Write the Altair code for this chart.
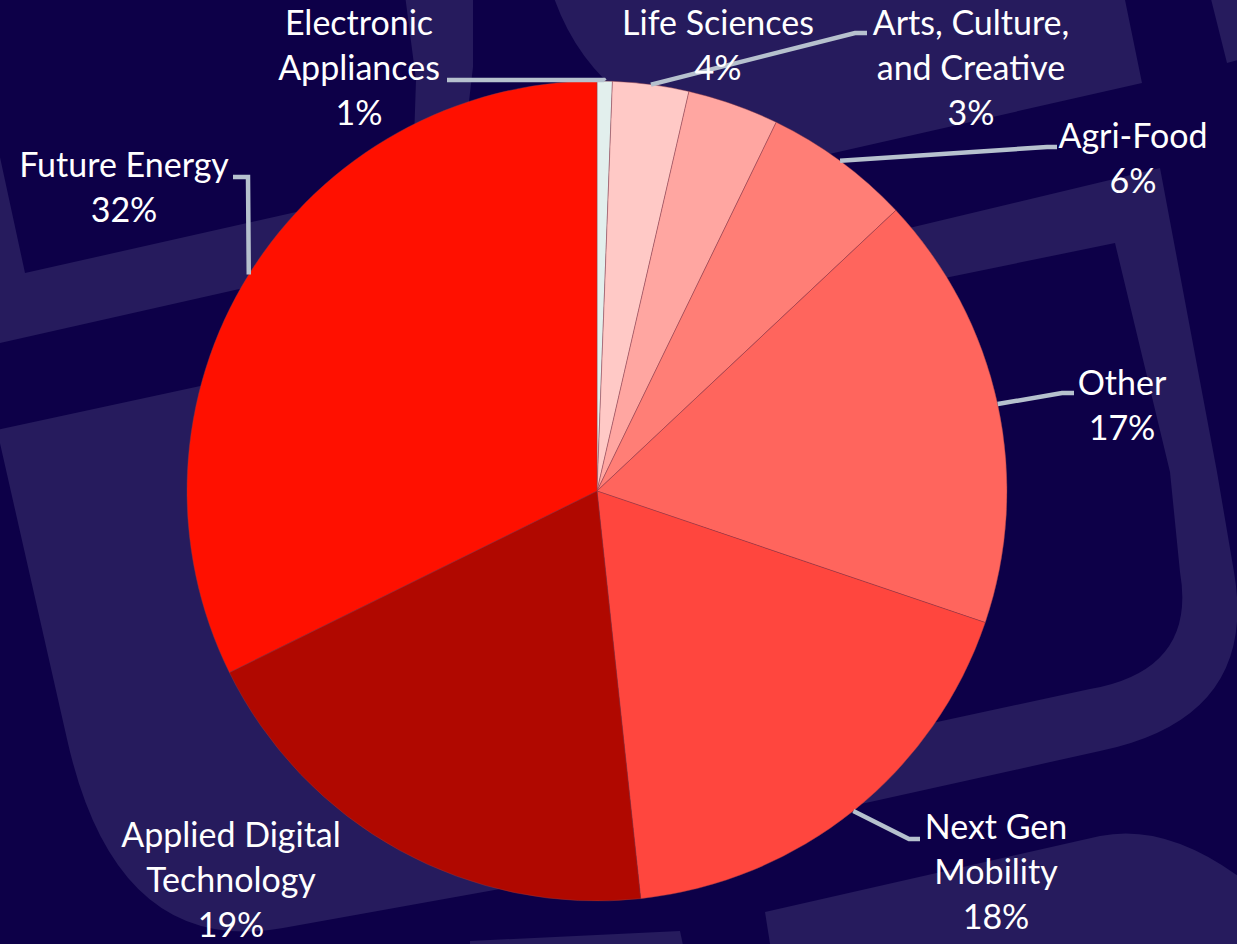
import math
import altair as alt
import pandas as pd

# ---------------- data ----------------
categories = [
    "Electronic Appliances",
    "Arts, Culture, and Creative",
    "Life Sciences",
    "Agri-Food",
    "Other",
    "Next Gen Mobility",
    "Applied Digital Technology",
    "Future Energy",
]
shares = [0.6, 3.0, 3.6, 5.8, 17.2, 18.1, 19.4, 32.3]

# ---------------- styling / layout ----------------
slice_colors = ["#e2efed", "#ffc9c6", "#ffa6a1", "#ff7e76",
                "#ff655d", "#ff463e", "#b00800", "#ff1000"]
W, H = 1237, 944
CX, CY, R = 597, 491, 410
BG = "#0d0048"
LIGHT = "#261b5d"
LEADER = "#b6c1ce"
FONT = "Lato"

# wrapped label names, label anchor (centre x, first baseline y)
label_names = [
    "Electronic\nAppliances",
    "Arts, Culture,\nand Creative",
    "Life Sciences",
    "Agri-Food",
    "Other",
    "Next Gen\nMobility",
    "Applied Digital\nTechnology",
    "Future Energy",
]
label_x = [359, 971, 718, 1133, 1122, 996, 231, 124]
label_y = [35, 35, 35, 148, 395, 839, 847, 177]

# leader lines: label-side start and elbow (None = no leader line)
leader_start = [(447, 80), (867, 33), None, (1057, 147), (1074, 393), (920, 839), None, (233, 177)]
leader_elbow = [(604, 80), (855, 33), None, (1047, 147), (1062, 393), (909, 839), None, (248, 177)]

# background artwork (decorative shapes, SVG paths in pixel units)
deco_light = [
    "M -50 -5 L 473 -5 L 473 67 L 468 110 L 487 233 L 0 343 L -50 354 Z",
    "M -3 430 L 700 278 L 700 845 L 500 889 L 283 928 Q 116 958 67 739 Z",
    "M 553 -5 L 1124 -5 L 1142 83 L 640 197 L 628 100 Q 575 60 553 -5 Z",
    "M 880 235 L 1160 168 L 1217 472 L 1234 572 Q 1259 718 1100 751 L 870 802 "
    "L 820 813 L 860 740 L 937 722 L 1090 689 Q 1197 670 1180 572 L 1170 472 "
    "L 1115 243 L 930 281 Z",
    "M 771 950 L 765 912 L 1100 836 Q 1170 822 1250 885 L 1250 950 Z",
    "M 470 950 L 470 941 L 680 931 L 684 950 Z",
    "M 1210 -5 L 1227 63 L 1245 58 L 1245 -5 Z",
]
deco_dark = [
    "M -35 -5 L 405 -5 L 416 80 L 414 140 L 430 182 L 25 273 Z",
]

# ---------------- derived tables ----------------
total = sum(shares)
pie_df = pd.DataFrame({
    "category": categories,
    "share": shares,
    "order": list(range(len(categories))),
})

label_rows = []
for name, s, lx, ly in zip(label_names, shares, label_x, label_y):
    pct = round(s / total * 100)
    label_rows.append({"x": lx, "y": ly, "text": f"{name}\n{pct}%"})
label_df = pd.DataFrame(label_rows)

line_rows = []
cum = 0.0
for i, s in enumerate(shares):
    mid = (cum + s / 2) / total * 2 * math.pi
    cum += s
    if leader_start[i] is None:
        continue
    ex = CX + R * math.sin(mid)
    ey = CY - R * math.cos(mid)
    pts = [leader_start[i], leader_elbow[i], (ex, ey)]
    for k, (px, py) in enumerate(pts):
        line_rows.append({"category": categories[i], "seq": k, "x": px, "y": py})
line_df = pd.DataFrame(line_rows)

one = pd.DataFrame({"k": [0]})

# ---------------- chart ----------------
xs = alt.Scale(domain=[0, W], range=[0, W], nice=False, zero=False)
ys = alt.Scale(domain=[0, H], range=[0, H], nice=False, zero=False)

layers = []
for p in deco_light:
    layers.append(
        alt.Chart(one).mark_point(shape=p, size=4, filled=True, color=LIGHT,
                                  opacity=1, strokeWidth=0)
        .encode(x=alt.value(0), y=alt.value(0))
    )
for p in deco_dark:
    layers.append(
        alt.Chart(one).mark_point(shape=p, size=4, filled=True, color=BG,
                                  opacity=1, strokeWidth=0)
        .encode(x=alt.value(0), y=alt.value(0))
    )

pie = alt.Chart(pie_df).mark_arc(
    radius=R, stroke="#8c3a46", strokeWidth=0.6, strokeOpacity=0.7
).encode(
    theta=alt.Theta("share:Q", stack=True),
    order=alt.Order("order:Q", sort="ascending"),
    color=alt.Color("category:N",
                    scale=alt.Scale(domain=categories, range=slice_colors),
                    legend=None),
    x=alt.value(CX),
    y=alt.value(CY),
)

leaders = alt.Chart(line_df).mark_line(
    color=LEADER, strokeWidth=4.5, strokeCap="butt", strokeJoin="miter"
).encode(
    x=alt.X("x:Q", scale=xs, axis=None),
    y=alt.Y("y:Q", scale=ys, axis=None),
    detail="category:N",
    order=alt.Order("seq:Q"),
)

labels = alt.Chart(label_df).mark_text(
    align="center", baseline="alphabetic", lineBreak="\n", lineHeight=45,
    font=FONT, fontSize=34, color="#ffffff"
).encode(
    x=alt.X("x:Q", scale=xs, axis=None),
    y=alt.Y("y:Q", scale=ys, axis=None),
    text="text:N",
)

chart = alt.layer(*layers, pie, leaders, labels).properties(
    width=W, height=H, background=BG, padding=0, autosize="none"
).configure_view(stroke=None)

chart.save("out.html", embed_options={"renderer": "svg", "actions": False})
